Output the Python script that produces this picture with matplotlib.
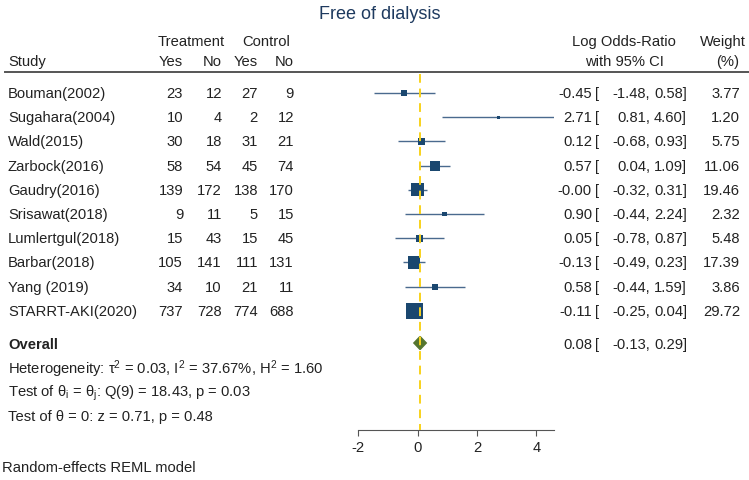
import numpy as np
import matplotlib
matplotlib.use('Agg')
import matplotlib.pyplot as plt
from matplotlib.transforms import blended_transform_factory

# study data
studies = ["Bouman(2002)", "Sugahara(2004)", "Wald(2015)", "Zarbock(2016)",
           "Gaudry(2016)", "Srisawat(2018)", "Lumlertgul(2018)", "Barbar(2018)",
           "Yang (2019)", "STARRT-AKI(2020)"]
treat_yes = [23, 10, 30, 58, 139, 9, 15, 105, 34, 737]
treat_no = [12, 4, 18, 54, 172, 11, 43, 141, 10, 728]
ctrl_yes = [27, 2, 31, 45, 138, 5, 15, 111, 21, 774]
ctrl_no = [9, 12, 21, 74, 170, 15, 45, 131, 11, 688]
log_or = [-0.45, 2.71, 0.12, 0.57, -0.00, 0.90, 0.05, -0.13, 0.58, -0.11]
ci_low = [-1.48, 0.81, -0.68, 0.04, -0.32, -0.44, -0.78, -0.49, -0.44, -0.25]
ci_high = [0.58, 4.60, 0.93, 1.09, 0.31, 2.24, 0.87, 0.23, 1.59, 0.04]
weight = [3.77, 1.20, 5.75, 11.06, 19.46, 2.32, 5.48, 17.39, 3.86, 29.72]
overall = [0.08, -0.13, 0.29]
x_ticks = [-2, 0, 2, 4]

title = "Free of dialysis"
het_text = "Heterogeneity: \u03c4$^2$ = 0.03, I$^2$ = 37.67%, H$^2$ = 1.60"
q_text = "Test of \u03b8$_\\mathrm{i}$ = \u03b8$_\\mathrm{j}$: Q(9) = 18.43, p = 0.03"
z_text = "Test of \u03b8 = 0: z = 0.71, p = 0.48"
note = "Random-effects REML model"

plt.rcParams['font.family'] = ['Liberation Sans', 'DejaVu Sans']
plt.rcParams['mathtext.fontset'] = 'custom'
plt.rcParams['mathtext.rm'] = 'Liberation Sans'
plt.rcParams['mathtext.it'] = 'Liberation Sans:italic'

W, H = 749, 481
ROW0, STEP = 94.0, 24.2
FS = 10.6
navy = '#1a476f'
dark = '#222222'


def row(py):
	# pixel y from top -> row units
	return (py - ROW0) / STEP


def fx(px):
	return px / W


fig = plt.figure(figsize=(W / 100, H / 100), dpi=100)
ax = fig.add_axes([fx(358.3), 0, 196.0 / W, 1])
ax.set_xlim(-2, 4.6)
ax.set_ylim(row(H), row(0))
trans = blended_transform_factory(fig.transFigure, ax.transData)

rows = np.arange(len(studies))

# CI lines and weighted squares
ax.hlines(rows, ci_low, ci_high, color='#4a6a8e', lw=1.0, zorder=2)
ax.scatter(log_or, rows, marker='s', s=np.array(weight) * 4.6,
           color=navy, linewidths=0, zorder=3)

# overall diamond
r_ov = row(344)
hh = 0.27
ax.fill([overall[1], overall[0], overall[2], overall[0]],
        [r_ov, r_ov - hh, r_ov, r_ov + hh], color='#55752f', zorder=4)

# reference line at overall effect
ax.plot([overall[0], overall[0]], [row(75), row(431)], color='#f8d21c',
        lw=1.4, ls=(0, (4.5, 3)), zorder=5)

# axis
for s in ['top', 'left', 'right']:
	ax.spines[s].set_visible(False)
ax.spines['bottom'].set_position(('data', row(431)))
ax.spines['bottom'].set_bounds(-2, 4.6)
ax.spines['bottom'].set_color('#555555')
ax.set_xticks(x_ticks)
ax.set_xticklabels([str(t) for t in x_ticks])
ax.tick_params(axis='x', length=4, color='#555555', labelsize=FS,
               labelcolor=dark, pad=3)
ax.set_yticks([])
ax.patch.set_visible(False)

# title and headers
ax.text(fx(380), row(15), title, transform=trans, ha='center', va='center',
        fontsize=13, color='#1e3a5f')
ax.text(fx(191), row(42), "Treatment", transform=trans, ha='center', va='center', fontsize=FS, color=dark)
ax.text(fx(266), row(42), "Control", transform=trans, ha='center', va='center', fontsize=FS, color=dark)
ax.text(fx(8), row(62), "Study", transform=trans, ha='left', va='center', fontsize=FS, color=dark)
col_x = [183, 222, 258, 294]
for x, lab in zip(col_x, ["Yes", "No", "Yes", "No"]):
	ax.text(fx(x), row(62), lab, transform=trans, ha='right', va='center', fontsize=FS, color=dark)
ax.text(fx(624), row(42), "Log Odds-Ratio", transform=trans, ha='center', va='center', fontsize=FS, color=dark)
ax.text(fx(624), row(62), "with 95% CI", transform=trans, ha='center', va='center', fontsize=FS, color=dark)
ax.text(fx(723), row(42), "Weight", transform=trans, ha='center', va='center', fontsize=FS, color=dark)
ax.text(fx(728), row(62), "(%)", transform=trans, ha='center', va='center', fontsize=FS, color=dark)
ax.plot([fx(5), 1.0], [row(73), row(73)], transform=trans, clip_on=False,
        color='#555555', lw=1.4)


def ci_text(r, est, lo, hi):
	ax.text(fx(592), r, "%.2f" % est, transform=trans, ha='right', va='center', fontsize=FS, color=dark)
	ax.text(fx(595), r, "[", transform=trans, ha='left', va='center', fontsize=FS, color=dark)
	ax.text(fx(650), r, "%.2f," % lo, transform=trans, ha='right', va='center', fontsize=FS, color=dark)
	ax.text(fx(687), r, "%.2f]" % hi, transform=trans, ha='right', va='center', fontsize=FS, color=dark)


# table rows
for i, name in enumerate(studies):
	ax.text(fx(8), i, name, transform=trans, ha='left', va='center', fontsize=FS, color=dark)
	for x, v in zip(col_x, [treat_yes[i], treat_no[i], ctrl_yes[i], ctrl_no[i]]):
		ax.text(fx(x), i, str(v), transform=trans, ha='right', va='center', fontsize=FS, color=dark)
	ci_text(i, log_or[i], ci_low[i], ci_high[i])
	ax.text(fx(740), i, "%.2f" % weight[i], transform=trans, ha='right', va='center', fontsize=FS, color=dark)

ax.text(fx(8), row(345), "Overall", transform=trans, ha='left', va='center',
        fontsize=FS, fontweight='bold', color=dark)
ci_text(row(345), overall[0], overall[1], overall[2])
ax.text(fx(8), row(369), het_text, transform=trans, ha='left', va='center', fontsize=FS, color=dark)
ax.text(fx(8), row(393), q_text, transform=trans, ha='left', va='center', fontsize=FS, color=dark)
ax.text(fx(8), row(417), z_text, transform=trans, ha='left', va='center', fontsize=FS, color=dark)
ax.text(fx(2), row(468), note, transform=trans, ha='left', va='center', fontsize=FS, color=dark)

fig.savefig('out.png', dpi=100)
